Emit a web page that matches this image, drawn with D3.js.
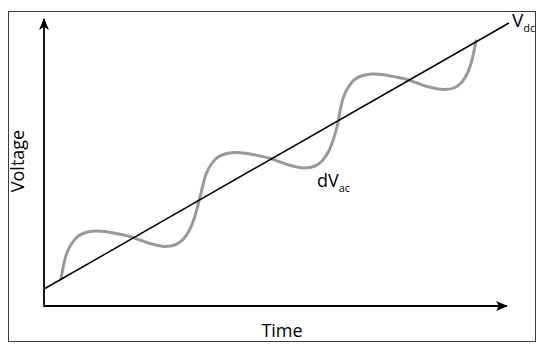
<!DOCTYPE html>
<html>
<head>
<meta charset="utf-8">
<script src="https://cdn.jsdelivr.net/npm/d3@7"></script>
<style>
  body { margin: 0; background: #fff; }
  text { font-family: "Open Sans", "Liberation Sans", sans-serif; fill: #000; }
</style>
</head>
<body>
<div id="chart"></div>
<script>
// DC level: straight line (time, voltage)
const dcTime = [0, 100];
const dcVolt = [6.0, 100];

// DC + ripple
const acTime = [3.66, 4.15, 4.88, 5.96, 7.38, 9.18, 10.97, 13.48, 16.34, 18.65, 20.65, 22.80, 26.02, 28.39, 29.89, 31.18, 32.26, 33.33,
  34.04, 34.77, 35.85, 37.27, 39.08, 40.86, 43.38, 46.24, 48.54, 50.54, 52.69, 55.91, 58.28, 59.78, 61.08, 62.15, 63.23,
  63.72, 64.45, 65.53, 66.95, 68.75, 70.54, 73.05, 75.91, 78.22, 80.22, 82.37, 86.02, 88.39, 89.89, 91.08, 92.04, 92.90];
const acVolt = [9.54, 13.96, 18.55, 22.08, 24.73, 26.04, 26.50, 26.25, 25.34, 24.49, 23.32, 22.08, 21.02, 21.73, 23.50, 26.50, 30.74, 37.10,
  41.70, 46.29, 49.82, 52.47, 53.78, 54.24, 53.99, 53.07, 52.23, 51.06, 49.82, 48.76, 49.47, 51.24, 54.24, 58.48, 64.84,
  69.43, 74.03, 77.56, 80.21, 81.52, 81.98, 81.73, 80.81, 79.96, 78.80, 77.56, 76.50, 77.21, 79.15, 82.33, 86.93, 93.64];

const xLabel = "Time";
const yLabel = "Voltage";

const W = 543, H = 351;
const svg = d3.select("#chart").append("svg")
  .attr("width", W).attr("height", H);

const x = d3.scaleLinear().domain([0, 100]).range([44, 509]);
const y = d3.scaleLinear().domain([0, 100]).range([306, 23]);

// frame
svg.append("rect")
  .attr("x", 8.5).attr("y", 11.5)
  .attr("width", 527).attr("height", 330)
  .attr("fill", "none").attr("stroke", "#3a3a3a").attr("stroke-width", 1);

const defs = svg.append("defs");
defs.append("marker")
  .attr("id", "arrow")
  .attr("viewBox", "0 0 12 10")
  .attr("refX", 11).attr("refY", 5)
  .attr("markerWidth", 12).attr("markerHeight", 10)
  .attr("markerUnits", "userSpaceOnUse")
  .attr("orient", "auto")
  .append("path")
  .attr("d", "M0,0 L12,5 L0,10 L3,5 Z")
  .attr("fill", "#000");

// axes
const x0 = x(0), y0 = y(0);
svg.append("line")
  .attr("x1", x0).attr("y1", y0).attr("x2", 507).attr("y2", y0)
  .attr("stroke", "#000").attr("stroke-width", 1.8)
  .attr("marker-end", "url(#arrow)");
svg.append("line")
  .attr("x1", x0).attr("y1", y0 + 0.9).attr("x2", x0).attr("y2", 19)
  .attr("stroke", "#000").attr("stroke-width", 1.8)
  .attr("marker-end", "url(#arrow)");

// ripple curve
const acData = acTime.map((t, i) => ({ t: t, v: acVolt[i] }));
svg.append("path")
  .datum(acData)
  .attr("fill", "none")
  .attr("stroke", "#999")
  .attr("stroke-width", 3)
  .attr("stroke-linecap", "round")
  .attr("d", d3.line().x(d => x(d.t)).y(d => y(d.v)).curve(d3.curveCatmullRom));

// dc line
const dcData = dcTime.map((t, i) => ({ t: t, v: dcVolt[i] }));
svg.append("path")
  .datum(dcData)
  .attr("fill", "none")
  .attr("stroke", "#000")
  .attr("stroke-width", 1.5)
  .attr("d", d3.line().x(d => x(d.t)).y(d => y(d.v)));

// labels
svg.append("text")
  .attr("x", 282).attr("y", 337)
  .attr("text-anchor", "middle")
  .attr("font-size", 18)
  .text(xLabel);

svg.append("text")
  .attr("transform", "translate(24,161) rotate(-90)")
  .attr("text-anchor", "middle")
  .attr("font-size", 18)
  .text(yLabel);

const vdc = svg.append("text").attr("x", 512).attr("y", 27).attr("font-size", 19);
vdc.append("tspan").text("V");
vdc.append("tspan").attr("font-size", 11).attr("dy", 5).text("dc");

const vac = svg.append("text").attr("x", 317).attr("y", 187).attr("font-size", 18);
vac.append("tspan").text("dV");
vac.append("tspan").attr("font-size", 11).attr("dy", 5).text("ac");
</script>
</body>
</html>
